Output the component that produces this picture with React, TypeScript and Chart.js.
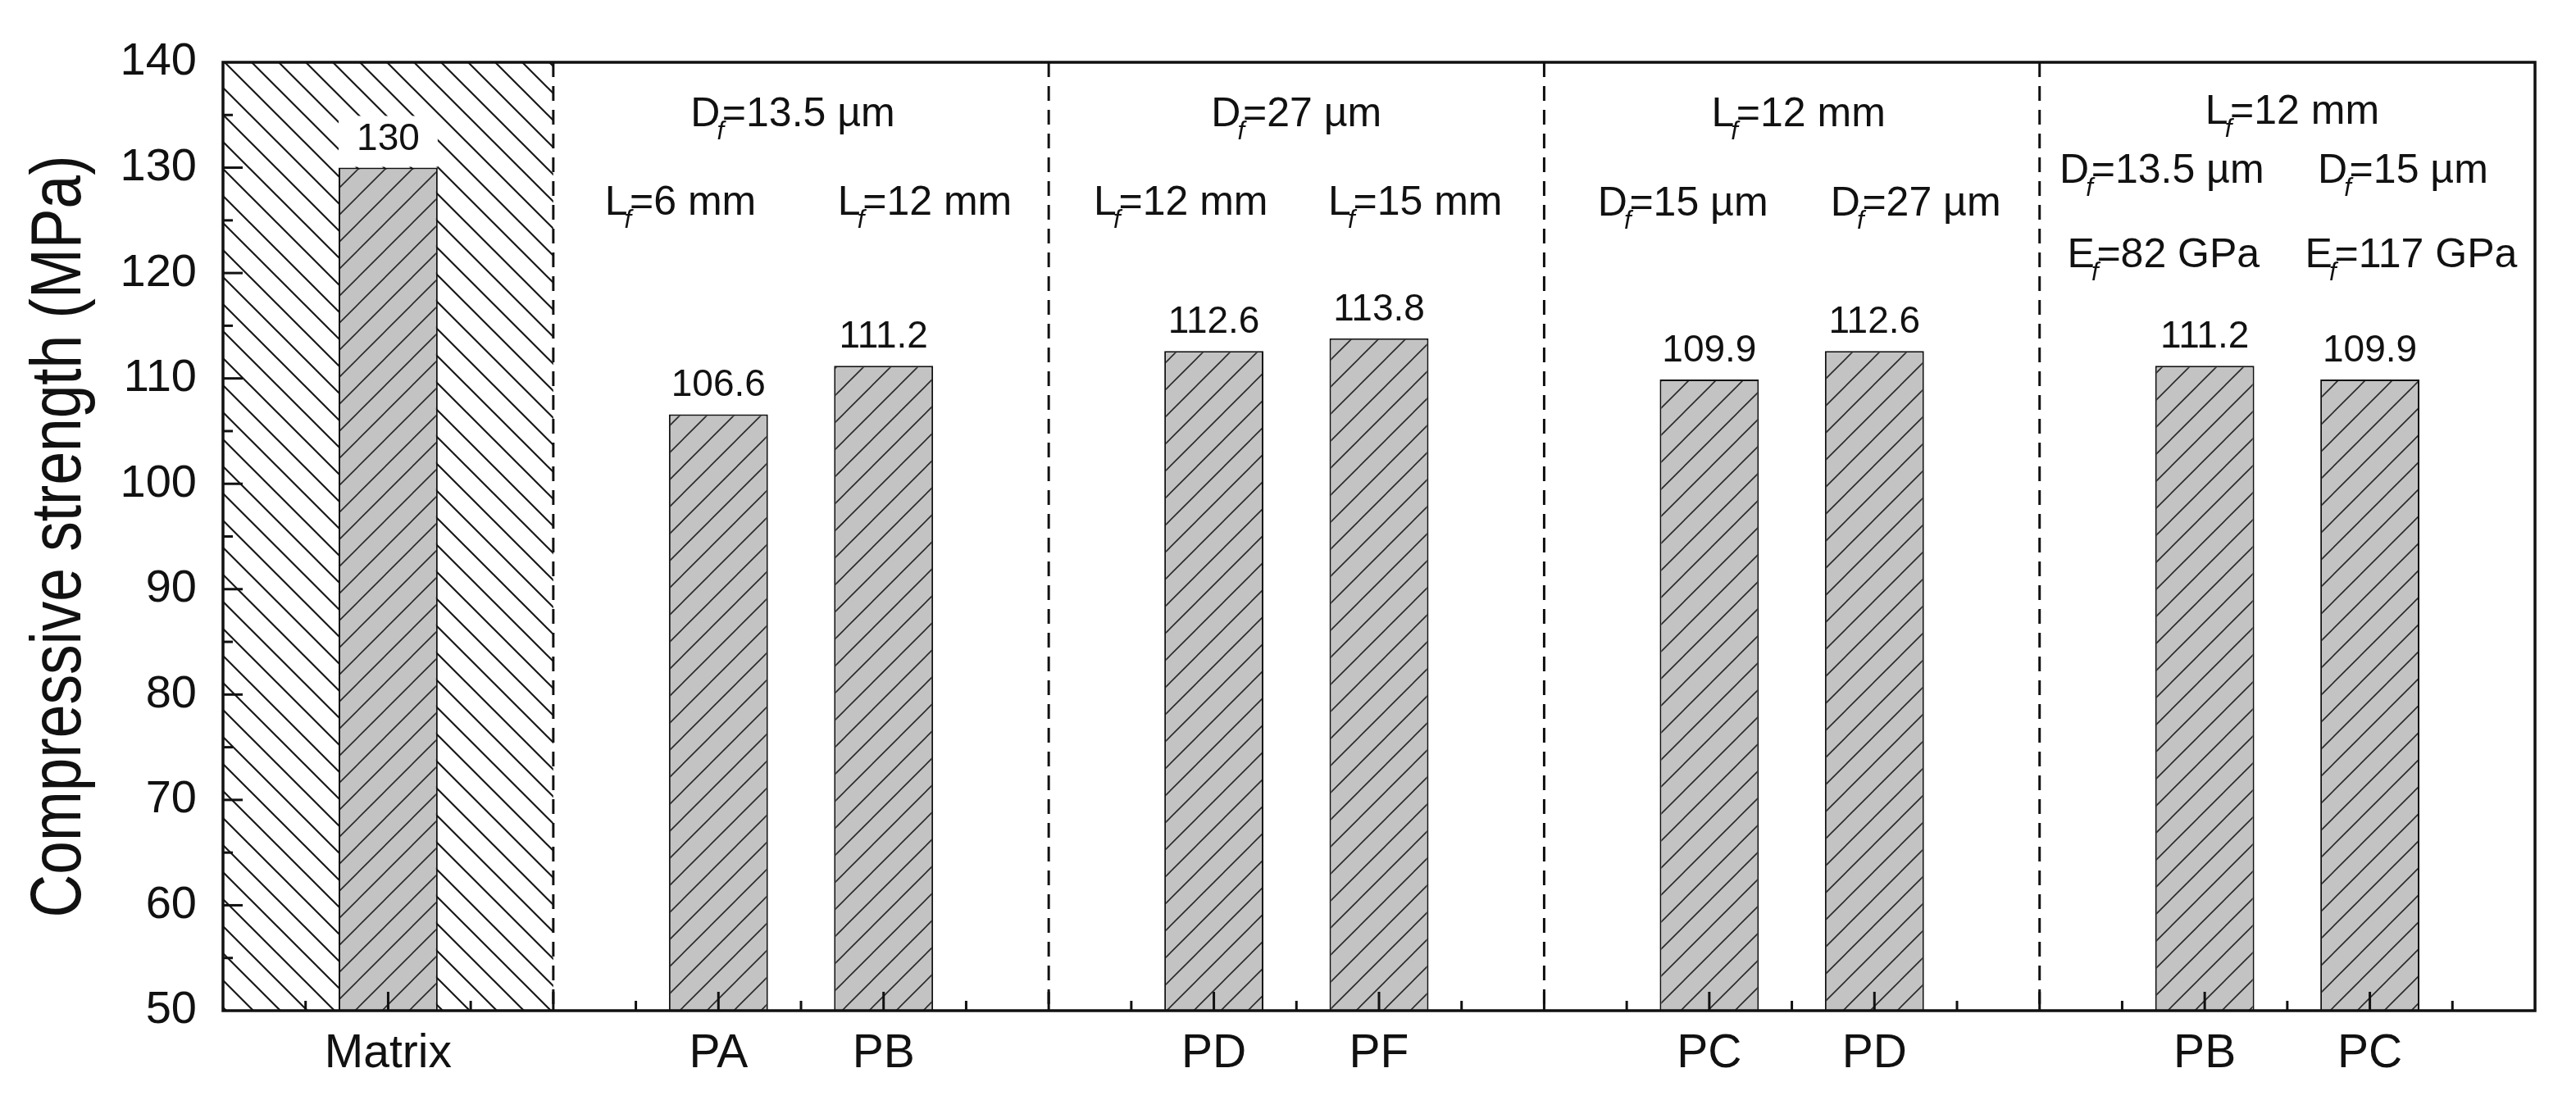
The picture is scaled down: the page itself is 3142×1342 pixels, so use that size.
import React, { useEffect, useRef } from 'react';
import { Chart, registerables } from 'chart.js';

Chart.register(...registerables);

// ---------------- data ----------------
const categories = ['Matrix', 'PA', 'PB', 'PD', 'PF', 'PC', 'PD', 'PB', 'PC'];
const slots = [1, 3, 4, 6, 7, 9, 10, 12, 13];
const strength = [130, 106.6, 111.2, 112.6, 113.8, 109.9, 112.6, 111.2, 109.9];
const valueLabels = ['130', '106.6', '111.2', '112.6', '113.8', '109.9', '112.6', '111.2', '109.9'];
const dividers = [2, 5, 8, 11];
const matrixSpan = [0, 2];
const xRange = [0, 14];
const yRange = [50, 140];
const yStep = 10;

const noteTexts = [
  'D_f=13.5 µm', 'L_f=6 mm', 'L_f=12 mm',
  'D_f=27 µm', 'L_f=12 mm', 'L_f=15 mm',
  'L_f=12 mm', 'D_f=15 µm', 'D_f=27 µm',
  'L_f=12 mm', 'D_f=13.5 µm', 'D_f=15 µm', 'E_f=82 GPa', 'E_f=117 GPa',
];
const noteX = [3.45, 2.77, 4.25, 6.5, 5.8, 7.22, 9.54, 8.84, 10.25, 12.53, 11.74, 13.2, 11.75, 13.25];
const noteY = [135.0, 126.6, 126.6, 135.0, 126.6, 126.6, 135.0, 126.5, 126.5, 135.25, 129.6, 129.6, 121.6, 121.6];

const yTitle = 'Compressive strength (MPa)';

// ---------------- styles ----------------
const FONT = "'Liberation Sans', Arial, Helvetica, sans-serif";
const INK = '#111111';

function makeHatch(bg: string, color: string, lw: number, T: number, forward: boolean) {
  const c = document.createElement('canvas');
  c.width = T;
  c.height = T;
  const g = c.getContext('2d')!;
  g.fillStyle = bg;
  g.fillRect(0, 0, T, T);
  g.strokeStyle = color;
  g.lineWidth = lw;
  g.beginPath();
  const w = lw * 2;
  if (forward) {
    g.moveTo(0, T); g.lineTo(T, 0);
    g.moveTo(-w, w); g.lineTo(w, -w);
    g.moveTo(T - w, T + w); g.lineTo(T + w, T - w);
  } else {
    g.moveTo(0, 0); g.lineTo(T, T);
    g.moveTo(-w, T - w); g.lineTo(w, T + w);
    g.moveTo(T - w, -w); g.lineTo(T + w, w);
  }
  g.stroke();
  return g.createPattern(c, 'repeat')!;
}

function drawRich(ctx: CanvasRenderingContext2D, text: string, cx: number, cy: number, size: number) {
  const mainFont = `${size}px ${FONT}`;
  const subSize = size * 0.62;
  const subFont = `italic ${subSize}px ${FONT}`;
  const idx = text.indexOf('_');
  const parts: { t: string; sub: boolean }[] =
    idx < 0
      ? [{ t: text, sub: false }]
      : [
          { t: text.slice(0, idx), sub: false },
          { t: text[idx + 1], sub: true },
          { t: text.slice(idx + 2), sub: false },
        ];
  const raw = parts.map((p) => {
    ctx.font = p.sub ? subFont : mainFont;
    return ctx.measureText(p.t).width;
  });
  const widths = parts.map((p, i) => (p.sub ? raw[i] * 0.3 : raw[i]));
  const total = widths.reduce((s, v) => s + v, 0);
  let x = cx - total / 2;
  ctx.textBaseline = 'middle';
  ctx.textAlign = 'left';
  parts.forEach((p, i) => {
    if (p.sub) {
      ctx.font = subFont;
      ctx.fillText(p.t, x - raw[i] * 0.45, cy + size * 0.42);
    } else {
      ctx.font = mainFont;
      ctx.fillText(p.t, x, cy);
    }
    x += widths[i];
  });
}

export default function App() {
  const ref = useRef<HTMLCanvasElement>(null);

  useEffect(() => {
    const canvas = ref.current!;
    const barHatch = makeHatch('#c3c3c3', '#2a2a2a', 1.6, 33, true);
    const backHatch = makeHatch('#ffffff', '#1a1a1a', 2.2, 33, false);

    const decor = {
      id: 'decor',
      beforeDatasetsDraw(chart: any) {
        const { ctx, scales } = chart;
        const x0 = scales.x.getPixelForValue(matrixSpan[0]);
        const x1 = scales.x.getPixelForValue(matrixSpan[1]);
        const yt = scales.y.getPixelForValue(yRange[1]);
        const yb = scales.y.getPixelForValue(yRange[0]);
        ctx.save();
        ctx.fillStyle = backHatch;
        ctx.fillRect(x0, yt, x1 - x0, yb - yt);
        ctx.restore();
      },
      afterDatasetsDraw(chart: any) {
        const { ctx, chartArea: a, scales } = chart;
        const xs = scales.x;
        const ys = scales.y;
        ctx.save();
        // value labels with white backing boxes
        const meta = chart.getDatasetMeta(0);
        const vSize = 46;
        meta.data.forEach((bar: any, i: number) => {
          const p = bar.getProps(['x', 'y', 'width'], true);
          const base = p.y - 22;
          const boxTop = base - vSize * 0.72 - 8;
          ctx.fillStyle = '#ffffff';
          ctx.fillRect(p.x - p.width / 2, boxTop, p.width, p.y - boxTop - 1);
          ctx.fillStyle = INK;
          ctx.font = `${vSize}px ${FONT}`;
          ctx.textAlign = 'center';
          ctx.textBaseline = 'alphabetic';
          ctx.fillText(valueLabels[i], p.x, base);
        });
        // dashed group dividers
        ctx.strokeStyle = INK;
        ctx.lineWidth = 3;
        ctx.setLineDash([18, 11]);
        dividers.forEach((d) => {
          const px = xs.getPixelForValue(d);
          ctx.beginPath();
          ctx.moveTo(px, a.top);
          ctx.lineTo(px, a.bottom);
          ctx.stroke();
        });
        ctx.setLineDash([]);
        // annotations
        ctx.fillStyle = INK;
        noteTexts.forEach((t, i) => {
          drawRich(ctx, t, xs.getPixelForValue(noteX[i]), ys.getPixelForValue(noteY[i]), 50);
        });
        // inward ticks
        ctx.lineWidth = 3;
        for (let v = xRange[0] + 0.5; v < xRange[1]; v += 0.5) {
          const px = xs.getPixelForValue(v);
          const len = Number.isInteger(v) ? 23 : 12;
          ctx.beginPath();
          ctx.moveTo(px, a.bottom);
          ctx.lineTo(px, a.bottom - len);
          ctx.stroke();
        }
        for (let v = yRange[0] + yStep / 2; v < yRange[1]; v += yStep / 2) {
          const py = ys.getPixelForValue(v);
          const len = v % yStep === 0 ? 24 : 12;
          ctx.beginPath();
          ctx.moveTo(a.left, py);
          ctx.lineTo(a.left + len, py);
          ctx.stroke();
        }
        // frame
        ctx.lineWidth = 3.5;
        ctx.strokeRect(a.left, a.top, a.right - a.left, a.bottom - a.top);
        // y title
        ctx.save();
        ctx.translate(66, (a.top + a.bottom) / 2);
        ctx.rotate(-Math.PI / 2);
        ctx.font = `88px ${FONT}`;
        const w = ctx.measureText(yTitle).width;
        ctx.scale(930 / w, 1);
        ctx.textAlign = 'center';
        ctx.textBaseline = 'middle';
        ctx.fillText(yTitle, 0, 0);
        ctx.restore();
        ctx.restore();
      },
    };

    const chart = new Chart(canvas, {
      type: 'bar',
      data: {
        datasets: [
          {
            data: slots.map((x, i) => ({ x, y: strength[i] })),
            backgroundColor: barHatch as any,
            borderColor: INK,
            borderWidth: 2,
            barPercentage: 0.6,
            categoryPercentage: 1.0,
          },
        ],
      },
      options: {
        responsive: false,
        animation: false,
        events: [],
        layout: { padding: { top: 68, right: 42, left: 0, bottom: 0 } },
        plugins: { legend: { display: false }, tooltip: { enabled: false }, title: { display: false } },
        scales: {
          x: {
            type: 'linear',
            min: xRange[0],
            max: xRange[1],
            offset: false,
            grid: { display: false, drawTicks: false },
            border: { display: false },
            afterBuildTicks: (scale: any) => {
              scale.ticks = slots.map((v) => ({ value: v }));
            },
            afterFit: (scale: any) => {
              scale.height = 101;
            },
            ticks: {
              autoSkip: false,
              maxRotation: 0,
              padding: 19,
              color: INK,
              font: { family: FONT, size: 57 },
              callback: (value: any) => {
                const i = slots.indexOf(Number(value));
                return i >= 0 ? categories[i] : '';
              },
            },
          },
          y: {
            min: yRange[0],
            max: yRange[1],
            grid: { display: false, drawTicks: false },
            border: { display: false },
            afterFit: (scale: any) => {
              scale.width = 264;
            },
            ticks: {
              stepSize: yStep,
              padding: 32,
              color: INK,
              font: { family: FONT, size: 56 },
            },
          },
        },
      },
      plugins: [decor],
    });
    return () => chart.destroy();
  }, []);

  return <canvas ref={ref} width={3126} height={1326} style={{ display: 'block', width: 3126, height: 1326 }} />;
}
